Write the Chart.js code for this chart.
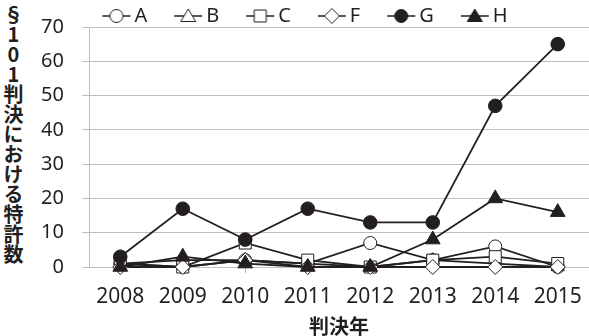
<!DOCTYPE html>
<html>
<head>
<meta charset="utf-8">
<script src="https://cdn.jsdelivr.net/npm/chart.js"></script>
<style>
body{margin:0;width:589px;height:336px;overflow:hidden;background:#fff;position:relative;}
#ytitle{position:absolute;left:3px;top:4px;writing-mode:vertical-rl;text-orientation:upright;font-family:"Noto Sans CJK JP";font-weight:bold;font-size:20px;line-height:20px;color:#231f20;}
#wrap{position:absolute;left:27px;top:0;width:562px;height:336px;}
</style>
</head>
<body>
<div id="ytitle">§101判決における特許数</div>
<div id="wrap"><canvas id="chart"></canvas></div>
<script>
const years = ['2008', '2009', '2010', '2011', '2012', '2013', '2014', '2015'];
const seriesA = [1, 0, 2, 1, 7, 2, 6, 0];
const seriesB = [1, 2, 2, 1, 0, 2, 1, 0];
const seriesC = [1, 0, 7, 2, 0, 2, 3, 1];
const seriesF = [0, 0, 2, 0, 0, 0, 0, 0];
const seriesG = [3, 17, 8, 17, 13, 13, 47, 65];
const seriesH = [0, 3, 1, 0, 0, 8, 20, 16];
const yTicks = [0, 10, 20, 30, 40, 50, 60, 70];

const ink = '#231f20';
const gridGray = '#bfbfbf';
const font = '"Noto Sans", "Noto Sans CJK JP", sans-serif';

// small legend picture: line with the marker on it
function legendIcon(shape, filled) {
    const c = document.createElement('canvas');
    c.width = 30; c.height = 20;
    const g = c.getContext('2d');
    g.strokeStyle = ink;
    g.lineWidth = 1.5;
    g.beginPath(); g.moveTo(1, 10); g.lineTo(29, 10); g.stroke();
    g.fillStyle = filled ? ink : '#fff';
    g.lineWidth = 1;
    const cx = 15, cy = 10;
    g.beginPath();
    if (shape === 'circle') g.arc(cx, cy, 6.5, 0, Math.PI * 2);
    else if (shape === 'triangle') { g.moveTo(cx, cy - 7); g.lineTo(cx + 7.5, cy + 5.5); g.lineTo(cx - 7.5, cy + 5.5); g.closePath(); }
    else if (shape === 'rect') g.rect(cx - 6, cy - 6, 12, 12);
    else { g.moveTo(cx, cy - 7.5); g.lineTo(cx + 7.5, cy); g.lineTo(cx, cy + 7.5); g.lineTo(cx - 7.5, cy); g.closePath(); }
    g.fill(); g.stroke();
    return c;
}

function series(label, data, shape, filled, radius, order) {
    return {
        label: label,
        data: data,
        borderColor: ink,
        borderWidth: 1.8,
        pointStyle: shape,
        pointRadius: radius,
        pointBorderWidth: 1,
        pointBorderColor: ink,
        pointBackgroundColor: filled ? ink : '#fff',
        tension: 0,
        clip: false,
        order: order,
        icon: legendIcon(shape, filled)
    };
}

const datasets = [
    series('A', seriesA, 'circle', false, 6.5, 5),
    series('B', seriesB, 'triangle', false, 7.5, 4),
    series('C', seriesC, 'rect', false, 8.5, 3),
    series('F', seriesF, 'rectRot', false, 7.5, 2),
    series('G', seriesG, 'circle', true, 6.8, 1),
    series('H', seriesH, 'triangle', true, 8.5, 0)
];

new Chart(document.getElementById('chart'), {
    type: 'line',
    data: { labels: years, datasets: datasets },
    options: {
        responsive: true,
        maintainAspectRatio: false,
        animation: false,
        events: [],
        // legend sits above the plot, the negative top pulls it up
        layout: { autoPadding: false, padding: { top: -27, left: 0, right: 0, bottom: 0 } },
        plugins: {
            tooltip: { enabled: false },
            legend: {
                position: 'top',
                maxHeight: 54,
                labels: {
                    usePointStyle: true,
                    pointStyleWidth: 16,
                    boxHeight: 20,
                    padding: 33,
                    color: ink,
                    font: { size: 20, family: font },
                    generateLabels: chart => chart.data.datasets.map((ds, i) => ({
                        text: ds.label,
                        pointStyle: ds.icon,
                        datasetIndex: i,
                        fillStyle: 'transparent',
                        strokeStyle: 'transparent',
                        lineWidth: 0,
                        fontColor: ink,
                        hidden: false
                    }))
                }
            }
        },
        scales: {
            x: {
                offset: true,
                afterFit: s => { s.height = 69; s.paddingLeft = 0; s.paddingRight = 0; },
                grid: { drawOnChartArea: false, drawTicks: true, tickLength: 6, color: gridGray },
                border: { color: gridGray },
                ticks: { color: ink, font: { size: 21, family: font }, padding: 11, maxRotation: 0, autoSkip: false },
                title: { display: true, text: '判決年', color: ink, padding: 0,
                    font: { size: 20, weight: 'bold', family: '"Noto Sans CJK JP"', lineHeight: 1 } }
            },
            y: {
                min: 0,
                max: 70,
                afterFit: s => { s.width = 62; s.paddingTop = 0; s.paddingBottom = 0; },
                afterBuildTicks: s => { s.ticks = yTicks.map(v => ({ value: v })); },
                grid: { color: gridGray, tickLength: 7 },
                border: { color: gridGray },
                ticks: { color: ink, font: { size: 20, family: font }, padding: 18 }
            }
        }
    }
});
</script>
</body>
</html>
